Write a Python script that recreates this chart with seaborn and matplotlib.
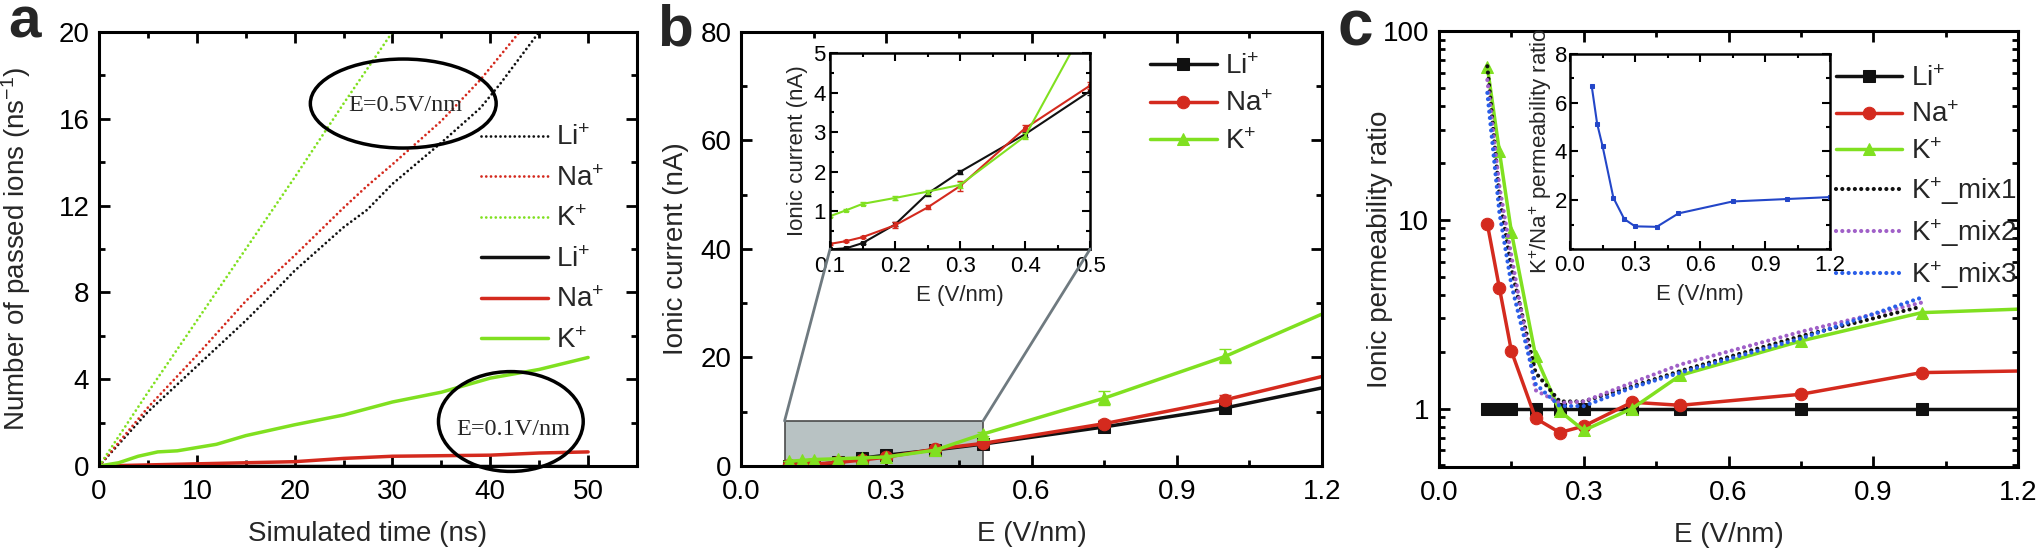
import numpy as np
import pandas as pd
import matplotlib
matplotlib.use("Agg")
import matplotlib.pyplot as plt
from matplotlib.patches import Ellipse, Rectangle, ConnectionPatch
from matplotlib.ticker import MultipleLocator, LogLocator, NullFormatter, FixedLocator
import seaborn as sns

# ---- panel a: passed ions vs simulated time ----
t_li_05 = [0, 5, 10, 15, 17, 20, 25, 27.4, 30, 35, 39, 41, 45]
n_li_05 = [0, 2.5, 4.6, 6.7, 7.6, 9.0, 11.0, 11.8, 13.0, 14.9, 16.5, 17.6, 20.0]
t_na_05 = [0, 5, 10, 15, 20, 25, 27.4, 30, 35, 39, 43]
n_na_05 = [0, 2.7, 5.1, 7.6, 9.7, 11.9, 12.9, 13.9, 15.9, 17.8, 20.0]
t_k_05 = [0, 5, 10, 15, 20, 25, 30]
n_k_05 = [0, 3.4, 6.7, 10.0, 13.3, 16.7, 20.0]
t_li_01 = [0, 50]
n_li_01 = [0, 0]
t_na_01 = [0, 5, 10, 20, 25, 30, 40, 45, 50]
n_na_01 = [0, 0.05, 0.1, 0.2, 0.35, 0.45, 0.5, 0.6, 0.65]
t_k_01 = [0, 2, 4, 6, 8, 10, 12, 15, 20, 25, 30, 35, 40, 45, 50]
n_k_01 = [0, 0.15, 0.45, 0.65, 0.7, 0.85, 1.0, 1.4, 1.9, 2.35, 2.95, 3.4, 4.05, 4.45, 5.0]

# ---- panel b: ionic current vs field ----
e_field = [0.1, 0.125, 0.15, 0.2, 0.25, 0.3, 0.4, 0.5, 0.75, 1.0, 1.2]
cur_li = [0.04, 0.07, 0.2, 0.67, 1.45, 2.0, 2.95, 4.04, 7.2, 10.7, 14.4]
cur_na = [0.18, 0.25, 0.35, 0.65, 1.1, 1.64, 3.1, 4.18, 7.8, 12.2, 16.5]
cur_k = [0.88, 1.03, 1.19, 1.34, 1.5, 1.67, 2.9, 5.9, 12.5, 20.2, 28.0]
err_li = [0.02, 0.02, 0.03, 0.05, 0.05, 0.05, 0.06, 0.1, 0.5, 0.6, 0]
err_na = [0.02, 0.03, 0.03, 0.07, 0.05, 0.12, 0.07, 0.1, 0.6, 0.8, 0]
err_k = [0.03, 0.03, 0.04, 0.06, 0.05, 0.08, 0.08, 0.3, 1.3, 1.3, 0]

# ---- panel c: permeability ratio vs field ----
e_ratio = [0.1, 0.125, 0.15, 0.2, 0.25, 0.3, 0.4, 0.5, 0.75, 1.0, 1.2]
ratio_li = [1, 1, 1, 1, 1, 1, 1, 1, 1, 1, 1]
ratio_na = [9.5, 4.35, 2.01, 0.887, 0.746, 0.807, 1.08, 1.04, 1.19, 1.55, 1.58]
ratio_k = [64.5, 23, 8.57, 1.9, 0.97, 0.766, 1.0, 1.5, 2.28, 3.22, 3.36]
e_mix = [0.1, 0.125, 0.15, 0.2, 0.25, 0.3, 0.4, 0.5, 0.75, 1.0]
mix1 = [65, 13.4, 5.5, 1.55, 1.09, 1.09, 1.31, 1.58, 2.42, 3.47]
mix2 = [55, 15, 6.4, 1.25, 1.07, 1.09, 1.37, 1.71, 2.55, 3.64]
mix3 = [47, 10.9, 4.5, 1.35, 1.03, 1.03, 1.29, 1.55, 2.35, 3.87]
kna_ratio = [6.68, 5.14, 4.22, 2.1, 1.23, 0.93, 0.91, 1.46, 1.95, 2.05, 2.13]

BLACK = "#111111"
RED = "#d42a1e"
GREEN = "#80e020"
PURPLE = "#a060c8"
BLUE = "#2a5ee8"
IBLUE = "#2346c8"
DOTS = (0, (0.01, 1.7))

sns.set_theme(style="ticks")
plt.rcParams["font.family"] = ["Liberation Sans", "DejaVu Sans"]
plt.rcParams["mathtext.default"] = "regular"
plt.rcParams["axes.linewidth"] = 2.2

FS = 20
FSI = 16

fig = plt.figure(figsize=(20.43, 5.53), dpi=100)
ax_a = fig.add_axes([0.0485, 0.1573, 0.2633, 0.785])
ax_b = fig.add_axes([0.3627, 0.1573, 0.2844, 0.785])
ax_c = fig.add_axes([0.7044, 0.1555, 0.2834, 0.7885])
in_b = fig.add_axes([0.4063, 0.5497, 0.1273, 0.3544])
in_c = fig.add_axes([0.7685, 0.5497, 0.1273, 0.3527])


def style(ax, fs, major=8, minor=4, width=2, pad=7):
    ax.tick_params(which="both", direction="in", top=True, right=True,
                   labelsize=fs, width=width, colors="black")
    ax.tick_params(which="major", length=major)
    ax.tick_params(which="minor", length=minor)
    ax.tick_params(axis="x", pad=pad + 2)
    ax.tick_params(axis="y", pad=pad)
    for s in ax.spines.values():
        s.set_color("black")


def line(ax, x, y, **kw):
    df = pd.DataFrame({"x": x, "y": y})
    sns.lineplot(data=df, x="x", y="y", ax=ax, sort=False, estimator=None, **kw)


# ---------- panel a ----------
line(ax_a, t_li_05, n_li_05, color=BLACK, lw=2, linestyle=DOTS, dash_capstyle="round", label="Li$^{+}$")
line(ax_a, t_na_05, n_na_05, color=RED, lw=2, linestyle=DOTS, dash_capstyle="round", label="Na$^{+}$")
line(ax_a, t_k_05, n_k_05, color=GREEN, lw=2, linestyle=DOTS, dash_capstyle="round", label="K$^{+}$")
line(ax_a, t_li_01, n_li_01, color=BLACK, lw=2.5, label="Li$^{+}$")
line(ax_a, t_na_01, n_na_01, color=RED, lw=2.5, label="Na$^{+}$")
line(ax_a, t_k_01, n_k_01, color=GREEN, lw=2.5, label="K$^{+}$")
ax_a.set_xlim(0, 55)
ax_a.set_ylim(0, 20)
ax_a.xaxis.set_major_locator(FixedLocator([0, 10, 20, 30, 40, 50]))
ax_a.xaxis.set_minor_locator(MultipleLocator(5))
ax_a.yaxis.set_major_locator(MultipleLocator(4))
ax_a.yaxis.set_minor_locator(MultipleLocator(2))
style(ax_a, FS)
ax_a.set_xlabel("Simulated time (ns)", fontsize=FS, labelpad=12)
ax_a.set_ylabel("Number of passed ions (ns$^{-1}$)", fontsize=FS)
ax_a.yaxis.set_label_coords(-0.123, 0.5)
ax_a.legend(loc="upper left", bbox_to_anchor=(0.69, 0.81), frameon=False,
            fontsize=FS, handlelength=2.4, handletextpad=0.3, labelspacing=0.52,
            borderaxespad=0)
ax_a.add_patch(Ellipse((31.1, 16.7), 19, 4.1, fill=False, lw=2.5, ec="black", zorder=5))
ax_a.add_patch(Ellipse((42.1, 2.05), 14.8, 4.6, fill=False, lw=2.5, ec="black",
                       zorder=5, clip_on=False))
ax_a.text(31.3, 16.6, "E=0.5V/nm", fontsize=17.5, family=["Liberation Serif", "DejaVu Serif"],
          ha="center", va="center")
ax_a.text(42.3, 1.7, "E=0.1V/nm", fontsize=17.5, family=["Liberation Serif", "DejaVu Serif"],
          ha="center", va="center")

# ---------- panel b ----------
series_b = [(cur_li, err_li, BLACK, "s", "Li$^{+}$"),
            (cur_na, err_na, RED, "o", "Na$^{+}$"),
            (cur_k, err_k, GREEN, "^", "K$^{+}$")]
n = len(e_field)
for y, err, c, m, lab in series_b:
    line(ax_b, e_field, y, color=c, lw=2.5, marker=m, ms=9, mec=c,
         markevery=list(range(n - 1)), label=lab)
    ax_b.errorbar(e_field[:-1], y[:-1], yerr=err[:-1], fmt="none", ecolor=c,
                  elinewidth=1.5, capsize=4)
ax_b.add_patch(Rectangle((0.09, 0), 0.41, 8.3, facecolor="#b8c2c3", edgecolor="#4a4a4a",
                         lw=1.2, zorder=0.5))
ax_b.set_xlim(0, 1.2)
ax_b.set_ylim(0, 80)
ax_b.set_xticks([0, 0.3, 0.6, 0.9, 1.2], ["0.0", "0.3", "0.6", "0.9", "1.2"])
ax_b.xaxis.set_minor_locator(MultipleLocator(0.15))
ax_b.yaxis.set_major_locator(MultipleLocator(20))
ax_b.yaxis.set_minor_locator(MultipleLocator(10))
style(ax_b, FS)
ax_b.set_xlabel("E (V/nm)", fontsize=FS, labelpad=12)
ax_b.set_ylabel("Ionic current (nA)", fontsize=FS)
ax_b.yaxis.set_label_coords(-0.09, 0.5)
ax_b.legend(loc="upper left", bbox_to_anchor=(0.685, 0.975), frameon=False,
            fontsize=FS, handlelength=2.4, handletextpad=0.3, labelspacing=0.41,
            borderaxespad=0)

for y, err, c, m, lab in series_b:
    line(in_b, e_field, y, color=c, lw=1.5, marker=m, ms=3, mec=c)
    in_b.errorbar(e_field, y, yerr=err, fmt="none", ecolor=c, elinewidth=1, capsize=2)
in_b.set_xlim(0.1, 0.5)
in_b.set_ylim(0.05, 5)
in_b.set_xticks([0.1, 0.2, 0.3, 0.4, 0.5])
in_b.set_yticks([1, 2, 3, 4, 5])
in_b.xaxis.set_minor_locator(MultipleLocator(0.05))
in_b.yaxis.set_minor_locator(MultipleLocator(0.5))
style(in_b, FSI, major=6, minor=3, width=1.5, pad=3)
for s in in_b.spines.values():
    s.set_linewidth(1.8)
in_b.set_xlabel("E (V/nm)", fontsize=FSI, labelpad=6)
in_b.set_ylabel("Ionic current (nA)", fontsize=FSI, labelpad=4)
for xa, ya in [((0.09, 8.3), (0, 0)), ((0.5, 8.3), (1, 0))]:
    con = ConnectionPatch(xyA=xa, coordsA=ax_b.transData, xyB=ya, coordsB=in_b.transAxes,
                          color="#6f7a80", lw=2, zorder=0.6)
    fig.add_artist(con)

# ---------- panel c ----------
series_c = [(ratio_li, BLACK, "s", "Li$^{+}$"),
            (ratio_na, RED, "o", "Na$^{+}$"),
            (ratio_k, GREEN, "^", "K$^{+}$")]
n = len(e_ratio)
for y, c, m, lab in series_c:
    line(ax_c, e_ratio, y, color=c, lw=2.5, marker=m, ms=9, mec=c,
         markevery=list(range(n - 1)), label=lab)
for y, c, lab in [(mix1, BLACK, "K$^{+}$_mix1"), (mix2, PURPLE, "K$^{+}$_mix2"),
                  (mix3, BLUE, "K$^{+}$_mix3")]:
    line(ax_c, e_mix, y, color=c, lw=3, linestyle=(0, (0.01, 1.5)),
         dash_capstyle="round", label=lab)
ax_c.set_yscale("log")
ax_c.set_xlim(0, 1.2)
ax_c.set_ylim(0.49, 100)
ax_c.set_yticks([1, 10, 100], ["1", "10", "100"])
ax_c.yaxis.set_minor_locator(LogLocator(base=10, subs=np.arange(2, 10)))
ax_c.yaxis.set_minor_formatter(NullFormatter())
ax_c.set_xticks([0, 0.3, 0.6, 0.9, 1.2], ["0.0", "0.3", "0.6", "0.9", "1.2"])
ax_c.xaxis.set_minor_locator(MultipleLocator(0.15))
style(ax_c, FS)
ax_c.set_xlabel("E (V/nm)", fontsize=FS, labelpad=12)
ax_c.set_ylabel("Ionic permeability ratio", fontsize=FS)
ax_c.yaxis.set_label_coords(-0.079, 0.5)
ax_c.legend(loc="upper left", bbox_to_anchor=(0.666, 0.945), frameon=False,
            fontsize=FS, handlelength=2.4, handletextpad=0.3, labelspacing=0.37,
            borderaxespad=0)

line(in_c, e_ratio, kna_ratio, color=IBLUE, lw=1.5, marker="s", ms=2.5, mec=IBLUE)
in_c.set_xlim(0, 1.2)
in_c.set_ylim(0, 8)
in_c.set_xticks([0, 0.3, 0.6, 0.9, 1.2], ["0.0", "0.3", "0.6", "0.9", "1.2"])
in_c.set_yticks([2, 4, 6, 8])
in_c.xaxis.set_minor_locator(MultipleLocator(0.15))
in_c.yaxis.set_minor_locator(MultipleLocator(1))
style(in_c, FSI, major=6, minor=3, width=1.5, pad=2)
for s in in_c.spines.values():
    s.set_linewidth(1.8)
in_c.set_xlabel("E (V/nm)", fontsize=FSI, labelpad=6)
in_c.set_ylabel("K$^{+}$/Na$^{+}$ permeability ratio", fontsize=FSI, labelpad=1)

fig.text(8 / 2043, 1 - 38 / 553, "a", fontsize=42, weight="bold", va="baseline")
fig.text(657 / 2043, 1 - 46 / 553, "b", fontsize=42, weight="bold", va="baseline")
fig.text(1337 / 2043, 1 - 46 / 553, "c", fontsize=46, weight="bold", va="baseline")

fig.savefig("out.png", dpi=100, facecolor="white")
